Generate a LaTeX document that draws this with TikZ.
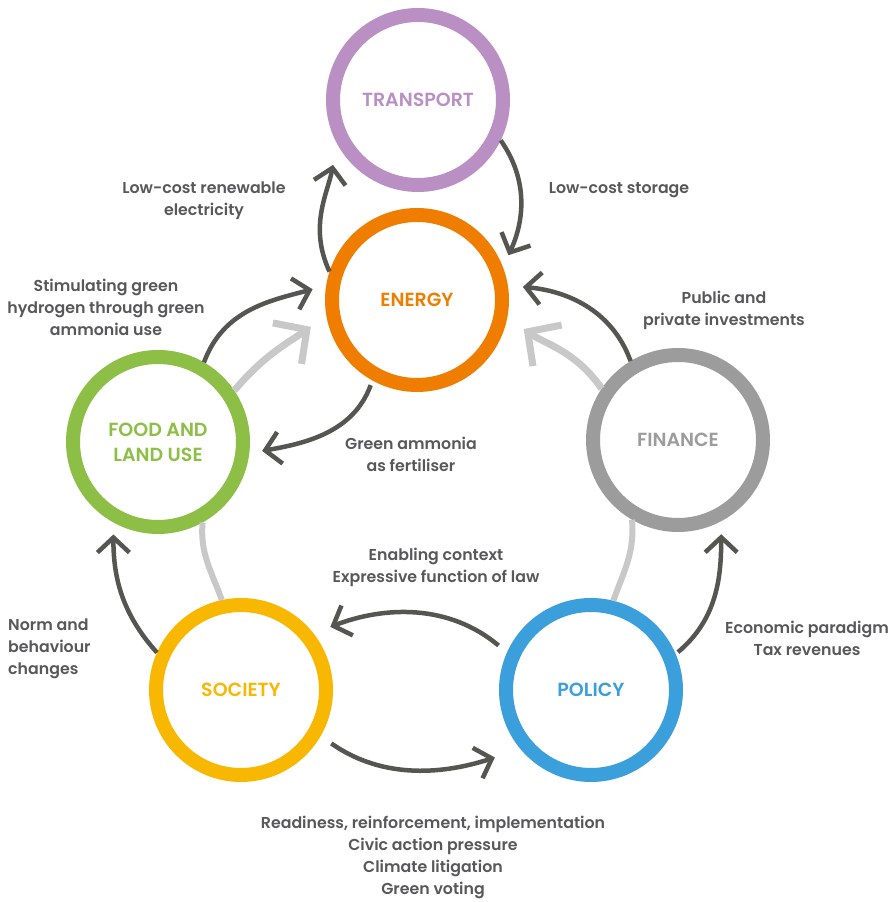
\documentclass[tikz,border=0pt]{standalone}
\usepackage{fontspec}
\setmainfont{Poppins}[BoldFont={Poppins SemiBold}]
\usetikzlibrary{arrows.meta}
\definecolor{ctrans}{HTML}{BA8FC4}
\definecolor{cenergy}{HTML}{EE7D00}
\definecolor{cfood}{HTML}{8DBE45}
\definecolor{cfin}{HTML}{9C9C9C}
\definecolor{csoc}{HTML}{F8B700}
\definecolor{cpol}{HTML}{3A9FDA}
\definecolor{cdark}{HTML}{555552}
\definecolor{clight}{HTML}{C8C8C8}
\definecolor{ctext}{HTML}{58585A}
\begin{document}
\begin{tikzpicture}[x=1pt,y=1pt,
  ring/.style={circle, draw=#1, line width=14pt, minimum size=170pt, inner sep=0pt, text=#1,
    font=\fontsize{19}{25}\selectfont\bfseries, align=center},
  lab/.style={text=ctext, font=\fontsize{15.8}{22}\selectfont\bfseries, align=center, inner sep=0pt},
  darr/.style={draw=cdark, line width=4.5pt, -{Straight Barb[length=15pt,width=32pt]}},
  garr/.style={draw=clight, line width=7pt, -{Straight Barb[length=24pt,width=50pt]}},
  gline/.style={draw=clight, line width=6pt}]
\fill[white] (0,0) rectangle (891,902);
\useasboundingbox (0,0) rectangle (891,902);

\node[ring=ctrans]  (transport) at (418,802) {TRANSPORT};
\node[ring=cenergy] (energy)    at (417,602) {ENERGY};
\node[ring=cfood]   (food)      at (158,460) {FOOD AND\\LAND USE};
\node[ring=cfin]    (finance)   at (678,462) {FINANCE};
\node[ring=csoc]    (society)   at (241,212) {SOCIETY};
\node[ring=cpol]    (policy)    at (591,212) {POLICY};

% light grey connectors
\draw[garr, shorten >=19pt] (food.34) to[out=50,in=215] (energy.190);
\draw[garr, shorten >=20pt] (finance.146) to[out=125,in=-35] (energy.-11);
\draw[gline] (food.-61) to[out=-95,in=110] (society.102);
\draw[gline] (finance.240) to[out=-85,in=70] (policy.76);

% dark connectors
\draw[darr, shorten >=22pt] (energy.162) to[out=115,in=260] (transport.208);
\draw[darr, shorten >=13pt] (transport.-26) to[out=-55,in=65] (energy.21);
\draw[darr, shorten >=14pt] (food.60) to[out=70,in=195] (energy.171);
\draw[darr, shorten >=15pt] (finance.121) to[out=110,in=-5] (energy.9);
\draw[darr, shorten <=5pt, shorten >=13pt] (energy.241) to[out=250,in=10] (food.-7);
\draw[darr, shorten <=11pt, shorten >=18pt] (policy.156) to[out=140,in=21] (society.38);
\draw[darr, shorten <=13pt, shorten >=27pt] (society.-30) to[out=-35,in=198] (policy.220);
\draw[darr, shorten <=3pt, shorten >=13pt] (policy.23) to[out=40,in=-90] (finance.-62);
\draw[darr, shorten >=12pt] (society.156) to[out=132,in=-90] (food.241);

% labels
\node[lab] (l1) at (204,701) {Low-cost renewable\\electricity};
\node[lab] (l2) at (619,712) {Low-cost storage};
\node[lab] (l3) at (106,595) {Stimulating green\\hydrogen through green\\ammonia use};
\node[lab] (l4) at (724,592) {Public and\\private investments};
\node[lab] (l5) at (411,448) {Green ammonia\\as fertiliser};
\node[lab] (l6) at (436,335) {Enabling context\\Expressive function of law};
\node[lab, align=left, anchor=west] (l7) at (8,253) {Norm and\\behaviour\\changes};
\node[lab] (l8) at (807,264) {Economic paradigm\\Tax revenues};
\node[lab] (l9) at (433,45) {Readiness, reinforcement, implementation\\Civic action pressure\\Climate litigation\\Green voting};
\end{tikzpicture}
\end{document}
